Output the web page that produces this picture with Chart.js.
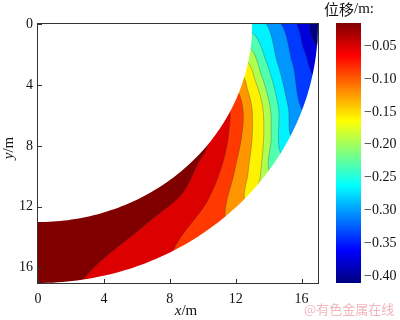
<!DOCTYPE html>
<html><head><meta charset="utf-8">
<script src="https://cdn.jsdelivr.net/npm/chart.js@4.4.1/dist/chart.umd.min.js"></script>
<style>
html,body{margin:0;padding:0;background:#fff;}
#wrap{position:relative;width:400px;height:320px;overflow:hidden;}
#main{position:absolute;left:0;top:0;}
#bar{position:absolute;left:320px;top:0;}
</style></head><body>
<div id="wrap"><canvas id="main" width="400" height="320"></canvas><canvas id="bar" width="80" height="320"></canvas></div>
<script>
// ---------------- data ----------------
const xTicks = [0, 4, 8, 12, 16];
const yTicks = [0, 4, 8, 12, 16];
const axisMax = 17;
const innerRadius = 13;
const outerRadius = 17;
// displacement value of each band (m), from the corner band to the far band
const bandValues = [-0.400, -0.366, -0.332, -0.298, -0.264, -0.230, -0.195, -0.161, -0.127, -0.093, -0.059, -0.025];
// contour lines between bands, points [x, y] in metres
const contour1  = [[16.25,-0.3],[16.6,0.8],[17.2,1.7]];
const contour2  = [[15.35,-0.3],[16.15,1.7],[16.9,3.6]];
const contour3  = [[14.35,-0.3],[15.45,2.6],[16.15,5.8]];
const contour4  = [[13.45,-0.3],[14.55,2.6],[15.2,5.5],[15.45,7.5]];
const contour5  = [[12.8,0.5],[13.9,2.6],[14.6,5.5],[14.8,8.6]];
const contour6  = [[12.7,1.5],[13.55,3.3],[14.1,5.5],[14.15,7.5],[14.1,9.8]];
const contour7  = [[12.55,2.4],[13.25,3.9],[13.65,5.5],[13.7,7.5],[13.5,10.0],[13.45,10.8]];
const contour8  = [[12.3,3.3],[12.75,4.4],[13.0,5.6],[13.0,7.5],[12.75,9.8],[12.6,11.7]];
const contour9  = [[11.95,4.3],[12.45,5.7],[12.35,7.5],[11.95,9.6],[11.4,12.9]];
const contour10 = [[11.45,5.4],[11.6,7.0],[11.2,9.2],[10.3,11.6],[8.15,15.2]];
const contour11 = [[10.2,7.6],[9.6,9.4],[8.7,11.2],[6.6,13.1],[2.55,17.1]];
const contours = [contour1, contour2, contour3, contour4, contour5, contour6, contour7, contour8, contour9, contour10, contour11];
// colour bar
const colorbarRange = [-0.41, -0.015];
const colorbarTicks = [-0.05, -0.10, -0.15, -0.20, -0.25, -0.30, -0.35, -0.40];
const colorbarTitleCJK = '位移';
const colorbarTitleRest = '/m:';
const watermark = '@有色金属在线';

// ---------------- helpers ----------------
function jet(t){
  const c = v => Math.round(255 * Math.max(0, Math.min(1, v)));
  return 'rgb(' + c(1.5 - Math.abs(4*t - 3)) + ',' + c(1.5 - Math.abs(4*t - 2)) + ',' + c(1.5 - Math.abs(4*t - 1)) + ')';
}
function polar(r, deg){ const a = deg * Math.PI / 180; return {x: r * Math.cos(a), y: r * Math.sin(a)}; }
function arcPts(r, a0, a1, step){ const o = []; for (let a = a0; a < a1; a += step) o.push(polar(r, a)); o.push(polar(r, a1)); return o; }
function regionFrom(pts){
  const out = [{x: 0, y: 0}];
  pts.forEach(p => out.push({x: p[0], y: p[1]}));
  const last = pts[pts.length - 1];
  const a0 = Math.atan2(last[1], last[0]) * 180 / Math.PI;
  return out.concat(arcPts(20, a0, 100, 4));
}
const vMin = bandValues[0], vMax = bandValues[bandValues.length - 1];
const bandColor = v => jet((v - vMin) / (vMax - vMin));

const seq = [];
seq.push({data: [{x:-1,y:-1},{x:20,y:-1},{x:20,y:20},{x:-1,y:20}], backgroundColor: bandColor(bandValues[0]), borderWidth: 0, tension: 0});
contours.forEach((c, i) => seq.push({data: regionFrom(c), backgroundColor: bandColor(bandValues[i + 1]), borderWidth: 0.6, borderColor: 'rgba(50,50,50,0.5)', tension: 0.3}));
seq.push({data: [{x:0,y:0}].concat(arcPts(innerRadius, -10, 100, 1)), backgroundColor: '#fff', borderWidth: 0, tension: 0});
seq.push({data: arcPts(outerRadius, -10, 100, 1).concat([{x:-5,y:25},{x:25,y:25},{x:25,y:-5}]), backgroundColor: '#fff', borderWidth: 0, tension: 0});
const datasets = seq.map((d, i) => Object.assign({showLine: true, fill: 'shape', pointRadius: 0, pointHoverRadius: 0, capBezierPoints: false, clip: 0, order: -i}, d));

const serif = 'Liberation Serif, Times New Roman, serif';
const framePlugin = {
  id: 'frame',
  afterDatasetsDraw(chart){
    const {ctx, chartArea: a, scales} = chart;
    ctx.save();
    ctx.strokeStyle = '#333'; ctx.lineWidth = 1;
    ctx.strokeRect(a.left - 0.5, a.top - 0.5, a.right - a.left + 1, a.bottom - a.top + 1);
    ctx.beginPath();
    xTicks.forEach(v => { const p = Math.round(scales.x.getPixelForValue(v)) + 0.5; ctx.moveTo(p, a.bottom); ctx.lineTo(p, a.bottom - 4); });
    yTicks.forEach(v => { const p = Math.round(scales.y.getPixelForValue(v)) + 0.5; ctx.moveTo(a.left, p); ctx.lineTo(a.left + 4, p); });
    ctx.stroke();
    ctx.restore();
  },
  afterDraw(chart){
    const ctx = chart.ctx;
    ctx.save();
    ctx.fillStyle = '#111'; ctx.textBaseline = 'middle';
    ctx.font = 'italic 15px ' + serif; const wx = ctx.measureText('x').width;
    ctx.font = '15px ' + serif; const wm = ctx.measureText('/m').width;
    let sx = 186 - (wx + wm) / 2;
    ctx.font = 'italic 15px ' + serif; ctx.textAlign = 'left'; ctx.fillText('x', sx, 311);
    ctx.font = '15px ' + serif; ctx.fillText('/m', sx + wx, 311);
    ctx.translate(9, 148); ctx.rotate(-Math.PI / 2);
    ctx.font = 'italic 15px ' + serif; const wy = ctx.measureText('y').width;
    sx = -(wy + wm) / 2;
    ctx.fillText('y', sx, 0);
    ctx.font = '15px ' + serif; ctx.fillText('/m', sx + wy, 0);
    ctx.setTransform(1, 0, 0, 1, 0, 0);
    ctx.font = '13px "Noto Sans CJK SC", sans-serif'; ctx.fillStyle = 'rgba(236,150,160,0.7)';
    ctx.textAlign = 'left'; ctx.fillText(watermark, 304, 309);
    ctx.restore();
  }
};

new Chart(document.getElementById('main'), {
  type: 'scatter',
  data: {datasets},
  options: {
    responsive: false, animation: false, devicePixelRatio: 1, events: [],
    layout: {padding: {top: 24, right: 82, left: 0, bottom: 0}},
    plugins: {legend: {display: false}, tooltip: {enabled: false}},
    scales: {
      x: {type: 'linear', min: 0, max: axisMax,
          afterBuildTicks: s => { s.ticks = xTicks.map(v => ({value: v})); },
          afterFit: s => { s.height = 37; },
          grid: {display: false, drawTicks: false}, border: {display: false},
          ticks: {padding: 8, color: '#111', font: {family: serif, size: 14}, maxRotation: 0}},
      y: {type: 'linear', min: 0, max: axisMax, reverse: true,
          afterBuildTicks: s => { s.ticks = yTicks.map(v => ({value: v})); },
          afterFit: s => { s.width = 38; },
          grid: {display: false, drawTicks: false}, border: {display: false},
          ticks: {padding: 5, color: '#111', font: {family: serif, size: 14}}}
    }
  },
  plugins: [framePlugin]
});

// ---------------- colour bar ----------------
const cbTitlePlugin = {
  id: 'cbtitle',
  afterDraw(chart){
    const ctx = chart.ctx;
    ctx.save(); ctx.fillStyle = '#111'; ctx.textBaseline = 'middle'; ctx.textAlign = 'left';
    ctx.font = '15px "Noto Sans CJK SC", sans-serif';
    ctx.fillText(colorbarTitleCJK, 4, 9);
    const w = ctx.measureText(colorbarTitleCJK).width;
    ctx.font = '15px ' + serif; ctx.fillText(colorbarTitleRest, 4 + w, 9);
    ctx.restore();
  }
};
new Chart(document.getElementById('bar'), {
  type: 'bar',
  data: {labels: [''], datasets: [{
    data: [colorbarRange],
    barPercentage: 1, categoryPercentage: 1, borderWidth: 0,
    backgroundColor: (c) => {
      const ch = c.chart; if (!ch.chartArea) return '#888';
      const y = ch.scales.y;
      const g = ch.ctx.createLinearGradient(0, y.getPixelForValue(colorbarRange[0]), 0, y.getPixelForValue(colorbarRange[1]));
      for (let i = 0; i <= 32; i++) g.addColorStop(i / 32, jet(i / 32));
      return g;
    }
  }]},
  options: {
    responsive: false, animation: false, devicePixelRatio: 1, events: [],
    layout: {padding: {top: 23, left: 16, right: 0, bottom: 37}},
    plugins: {legend: {display: false}, tooltip: {enabled: false}},
    scales: {
      x: {display: false},
      y: {position: 'right', min: colorbarRange[0], max: colorbarRange[1],
          afterBuildTicks: s => { s.ticks = colorbarTicks.map(v => ({value: v})); },
          afterFit: s => { s.width = 39; },
          grid: {display: false, drawTicks: false}, border: {display: false},
          ticks: {padding: 3, color: '#111', font: {family: serif, size: 14},
                  callback: v => (v < 0 ? '\u2212' : '') + Math.abs(v).toFixed(2)}}
    }
  },
  plugins: [cbTitlePlugin]
});
</script>
</body></html>
